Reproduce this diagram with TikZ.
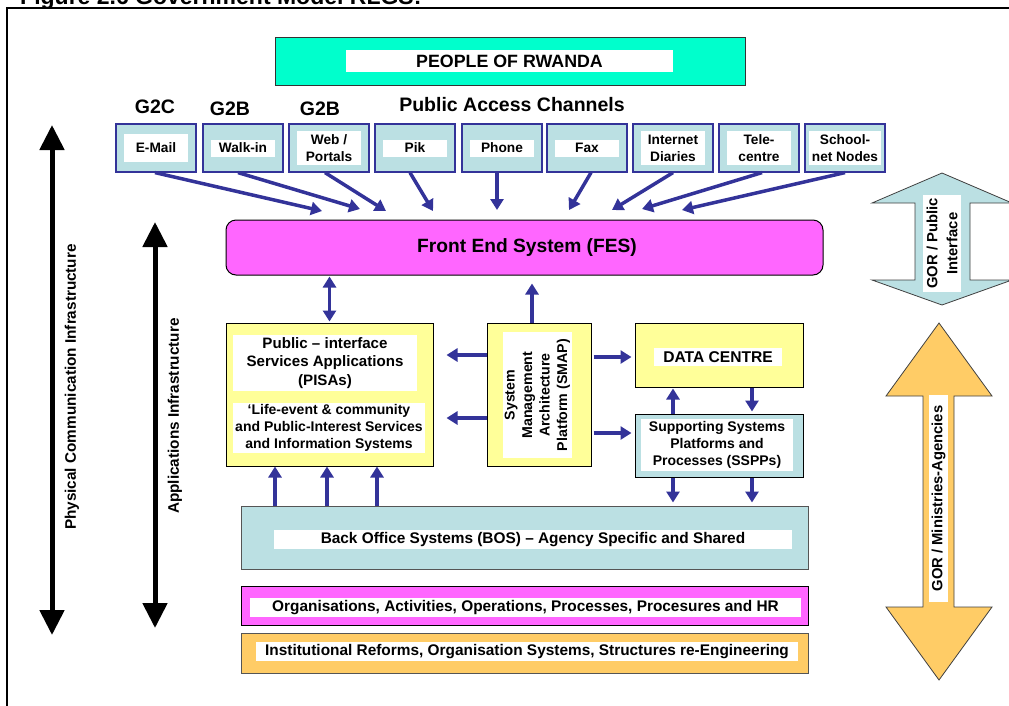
\documentclass[tikz,border=0pt]{standalone}
\usepackage{fontspec}
\setmainfont{Liberation Sans}
\usetikzlibrary{arrows.meta,calc}

\definecolor{aqua}{HTML}{00FFCC}
\definecolor{chanblue}{HTML}{BBE0E3}
\definecolor{pinkbox}{HTML}{FF66FF}
\definecolor{paleyellow}{HTML}{FFFF99}
\definecolor{goldbox}{HTML}{FFCC66}
\definecolor{navy}{HTML}{333399}
\definecolor{edgegray}{HTML}{555555}

\tikzset{
  fnt/.style={font=\fontsize{#1}{#1}\selectfont\bfseries},
  chanbox/.style={draw=navy, line width=1.2pt, fill=chanblue,
    minimum width=80pt, minimum height=48pt, inner sep=0pt},
  chanlbl/.style={fill=white, align=center, inner sep=0pt,
    minimum width=64pt, minimum height=17pt,
    font=\fontsize{13.7}{17}\selectfont\bfseries},
  heading/.style={font=\fontsize{19.5}{22}\selectfont\bfseries},
  panel/.style={draw=black, line width=1pt, inner sep=0pt},
  whitelbl/.style={fill=white, align=center, inner sep=0pt},
  flow/.style={draw=navy, line width=3.5pt, -{Triangle[length=11pt,width=13pt]}},
  dflow/.style={draw=navy, line width=3.5pt,
    {Triangle[length=11pt,width=13pt]}-{Triangle[length=11pt,width=13pt]}},
  bigarrow/.style={draw=black, line width=5pt,
    {Triangle[length=25pt,width=24pt]}-{Triangle[length=25pt,width=24pt]}},
  blockarrow/.style={draw=black!75, line width=0.8pt},
}

\begin{document}
\begin{tikzpicture}[x=1pt,y=-1pt]
\useasboundingbox (0,0) rectangle (1009,705);
\clip (0,0) rectangle (1009,705);

% caption and frame
\node[anchor=base west, fnt=23, inner sep=0pt] (title) at (20,4)
  {Figure 2.6 Government Model RLGS:};
\draw[line width=2pt] (1020,8) -- (7,8) -- (7,720);

% people
\node[draw=black!80, line width=1pt, fill=aqua, minimum width=470pt,
  minimum height=48pt, inner sep=0pt] (people) at (510,61) {};
\node[whitelbl, minimum width=327pt, minimum height=22pt, fnt=17.8]
  (peoplelbl) at (509.5,61) {PEOPLE OF RWANDA};

% headings
\node[heading] (g2c) at (155,107) {G2C};
\node[heading] (g2ba) at (230,109) {G2B};
\node[heading] (g2bb) at (320,109) {G2B};
\node[heading] (pac) at (512,105) {Public Access Channels};

% access channels
\node[chanbox] (email) at (156,148) {};
\node[chanbox] (walk) at (243,148) {};
\node[chanbox] (web) at (329,148) {};
\node[chanbox] (pik) at (415,148) {};
\node[chanbox] (phone) at (502,148) {};
\node[chanbox] (fax) at (587,148) {};
\node[chanbox] (inet) at (673,148) {};
\node[chanbox] (tele) at (759,148) {};
\node[chanbox] (school) at (845,148) {};

\node[chanlbl, minimum height=28pt] (emaillbl) at (email) {E-Mail};
\node[chanlbl] (walklbl) at (walk) {Walk-in};
\node[chanlbl, minimum height=34pt] (weblbl) at (web) {Web /\\Portals};
\node[chanlbl] (piklbl) at (pik) {Pik};
\node[chanlbl] (phonelbl) at (phone) {Phone};
\node[chanlbl] (faxlbl) at (fax) {Fax};
\node[chanlbl, minimum height=34pt] (inetlbl) at (inet) {Internet\\Diaries};
\node[chanlbl, minimum height=34pt] (telelbl) at (tele) {Tele-\\centre};
\node[chanlbl, minimum height=34pt, minimum width=72pt] (schoollbl) at (school) {School-\\net Nodes};

% front end system
\node[draw=black, line width=1pt, rounded corners=10pt, fill=pinkbox,
  minimum width=597pt, minimum height=55pt, fnt=19.2] (fes) at (524.5,247.5)
  {\hspace*{5pt}Front End System (FES)};

% channel arrows into the front end
\coordinate (t1) at (322,211);
\coordinate (t2) at (360,209);
\coordinate (t3) at (386,211);
\coordinate (t4) at (433,211);
\coordinate (t5) at (497,210);
\coordinate (t6) at (569,210);
\coordinate (t7) at (612,210);
\coordinate (t8) at (642,209);
\coordinate (t9) at (682,210);
\draw[flow] ([xshift=-1pt]email.south) -- (t1);
\draw[flow] ([xshift=-5pt]walk.south) -- (t2);
\draw[flow] ([xshift=-4pt]web.south) -- (t3);
\draw[flow] ([xshift=-5pt]pik.south) -- (t4);
\draw[flow] ([xshift=-5pt]phone.south) -- (t5);
\draw[flow] ([xshift=4pt]fax.south) -- (t6);
\draw[flow] (inet.south) -- (t7);
\draw[flow] ([xshift=3pt]tele.south) -- (t8);
\draw[flow] (school.south) -- (t9);

% application layer
\node[panel, fill=paleyellow, minimum width=207pt, minimum height=143pt]
  (pisa) at (329.5,394.5) {};
\node[whitelbl, minimum width=184pt, minimum height=56pt,
  font=\fontsize{15.1}{18.5}\selectfont\bfseries] (pisalbl) at (325,363)
  {Public -- interface\\Services Applications\\(PISAs)};
\node[whitelbl, minimum width=192pt, minimum height=50pt,
  font=\fontsize{14}{17}\selectfont\bfseries] (lifelbl) at (329,428)
  {`Life-event \& community\\and Public-Interest Services\\and Information Systems};

\node[panel, fill=paleyellow, minimum width=104pt, minimum height=143pt]
  (smap) at (539,394.5) {};
\node[whitelbl, rotate=90, minimum width=126pt, minimum height=69pt,
  font=\fontsize{14.2}{17.5}\selectfont\bfseries] (smaplbl) at (537.5,395)
  {System\\Management\\Architecture\\Platform (SMAP)};

\node[panel, fill=paleyellow, minimum width=168pt, minimum height=64pt]
  (data) at (719,355) {};
\node[whitelbl, minimum width=128pt, minimum height=18pt, fnt=15.6]
  (datalbl) at (718,357) {DATA CENTRE};

\node[panel, fill=chanblue, minimum width=168pt, minimum height=63pt]
  (sspp) at (719,445.5) {};
\node[whitelbl, minimum width=152pt, minimum height=52pt,
  font=\fontsize{14}{17}\selectfont\bfseries] (sspplbl) at (717,445)
  {Supporting Systems\\Platforms and\\Processes (SSPPs)};

% back office and organisational layers
\node[draw=edgegray, line width=1pt, fill=chanblue, minimum width=567pt,
  minimum height=63pt, inner sep=0pt] (bos) at (524.5,537.5) {};
\node[whitelbl, minimum width=518pt, minimum height=19pt, fnt=15.4]
  (boslbl) at (533,539.5) {Back Office Systems (BOS) -- Agency Specific and Shared};

\node[panel, fill=pinkbox, minimum width=567pt, minimum height=39pt]
  (org) at (524.5,605.5) {};
\node[whitelbl, minimum width=551pt, minimum height=19pt, fnt=15.4]
  (orglbl) at (525.5,607.5) {Organisations, Activities, Operations, Processes, Procesures and HR};

\node[draw=edgegray, line width=1pt, fill=goldbox, minimum width=567pt,
  minimum height=40pt, inner sep=0pt] (inst) at (524.5,653) {};
\node[whitelbl, minimum width=542pt, minimum height=19pt, fnt=15.4]
  (instlbl) at (527,651.5) {Institutional Reforms, Organisation Systems, Structures re-Engineering};

% links between the layers
\draw[dflow, shorten <=1pt, shorten >=1pt] (fes.south -| pisa.north) -- (pisa.north);
\draw[flow, shorten >=8pt] ([xshift=-7pt]smap.north) -- ([xshift=-7pt]smap.north |- fes.south);
\draw[flow, shorten >=13pt] ([yshift=39.5pt]smap.west) -- ([yshift=39.5pt]smap.west -| pisa.east);
\draw[flow, shorten >=13pt] ([yshift=-23.5pt]smap.west) -- ([yshift=-23.5pt]smap.west -| pisa.east);
\draw[flow, shorten <=2pt, shorten >=3pt] ([yshift=37.5pt]smap.east) -- ([yshift=37.5pt]smap.east -| data.west);
\draw[flow, shorten <=2pt, shorten >=3pt] ([yshift=-38.5pt]smap.east) -- ([yshift=-38.5pt]smap.east -| sspp.west);
\draw[flow, shorten >=1pt] ([xshift=-46pt]sspp.north) -- ([xshift=-46pt]data.south);
\draw[flow, shorten >=2pt] ([xshift=33pt]data.south) -- ([xshift=33pt]sspp.north);
\draw[flow, shorten >=3pt] ([xshift=-46pt]sspp.south) -- ([xshift=-46pt]sspp.south |- bos.north);
\draw[flow, shorten >=3pt] ([xshift=33pt]sspp.south) -- ([xshift=33pt]sspp.south |- bos.north);
\draw[flow] ([xshift=-54.5pt]pisa.south |- bos.north) -- ([xshift=-54.5pt]pisa.south);
\draw[flow] ([xshift=-2.5pt]pisa.south |- bos.north) -- ([xshift=-2.5pt]pisa.south);
\draw[flow] ([xshift=47.5pt]pisa.south |- bos.north) -- ([xshift=47.5pt]pisa.south);

% infrastructure spans on the left
\coordinate (phystop) at (52,125);
\coordinate (physbot) at (52,635);
\coordinate (apptop) at (155,222);
\coordinate (appbot) at (155,628);
\draw[bigarrow] (phystop) -- (physbot);
\draw[bigarrow] (apptop) -- (appbot);
\node[rotate=90, fnt=15.3] (physlbl) at (72,387) {Physical Communication Infrastructure};
\node[rotate=90, fnt=15.3] (applbl) at (175,416) {Applications Infrastructure};

% interface block arrows on the right
\draw[blockarrow, fill=chanblue] (942,173) -- (1012,203) -- (970,203) -- (970,280)
  -- (1012,280) -- (942,305) -- (872,280) -- (915,280) -- (915,203) -- (872,203) -- cycle;
\node[whitelbl, rotate=90, minimum width=97pt, minimum height=38pt,
  font=\fontsize{14.8}{20}\selectfont\bfseries] (gorpub) at (942,243.5)
  {GOR / Public\\Interface};

\draw[blockarrow, fill=goldbox] (939,323) -- (992,396) -- (954,396) -- (954,607)
  -- (992,607) -- (939,680) -- (886,607) -- (923,607) -- (923,396) -- (886,396) -- cycle;
\node[whitelbl, rotate=90, minimum width=207pt, minimum height=19pt, fnt=14.8]
  (gormin) at (938.5,498.5) {GOR / Ministries-Agencies};

\end{tikzpicture}
\end{document}
